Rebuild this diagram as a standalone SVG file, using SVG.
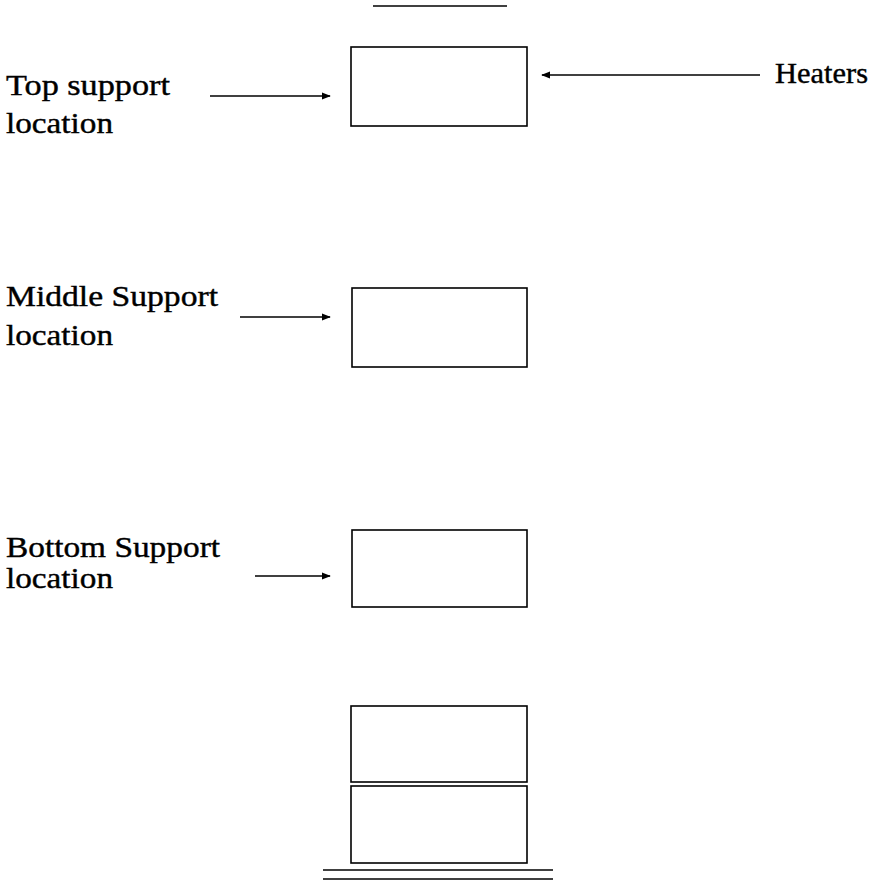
<svg xmlns="http://www.w3.org/2000/svg" width="870" height="880" viewBox="0 0 870 880">
<defs>
<marker id="ah" viewBox="0 0 10 10" refX="9" refY="5" markerWidth="9" markerHeight="9" markerUnits="userSpaceOnUse" orient="auto"><path d="M0,1 L10,5 L0,9 z" fill="#000"/></marker>
</defs>
<style>
.box{fill:#fff;stroke:#000;stroke-width:1.6}
.ln{stroke:#000;stroke-width:1.4;fill:none}
.t{font-family:"Liberation Serif",serif;font-size:29px;fill:#000;stroke:#000;stroke-width:0.4}
</style>
<rect width="870" height="880" fill="#fff"/>
<g id="top-line"><line class="ln" x1="373" y1="6" x2="507" y2="6"/></g>
<g id="top-box"><rect class="box" x="351" y="47" width="176" height="79"/></g>
<g id="middle-box"><rect class="box" x="352" y="288" width="175" height="79"/></g>
<g id="bottom-box"><rect class="box" x="352" y="530" width="175" height="77"/></g>
<g id="stack-upper"><rect class="box" x="351" y="706" width="176" height="76"/></g>
<g id="stack-lower"><rect class="box" x="351" y="786" width="176" height="77"/></g>
<g id="base-lines"><line class="ln" x1="323" y1="870" x2="553" y2="870"/><line class="ln" x1="323" y1="879" x2="553" y2="879"/></g>
<g id="label-top"><text class="t" x="6" y="95" textLength="164" lengthAdjust="spacingAndGlyphs">Top support</text><text class="t" x="6" y="133" textLength="107" lengthAdjust="spacingAndGlyphs">location</text></g>
<g id="label-middle"><text class="t" x="6" y="306" textLength="212" lengthAdjust="spacingAndGlyphs">Middle Support</text><text class="t" x="6" y="345" textLength="107" lengthAdjust="spacingAndGlyphs">location</text></g>
<g id="label-bottom"><text class="t" x="6" y="557" textLength="214" lengthAdjust="spacingAndGlyphs">Bottom Support</text><text class="t" x="6" y="588" textLength="107" lengthAdjust="spacingAndGlyphs">location</text></g>
<g id="label-heaters"><text class="t" x="775" y="83" textLength="93" lengthAdjust="spacingAndGlyphs">Heaters</text></g>
<g id="connectors">
<line class="ln" x1="210" y1="96" x2="330" y2="96" marker-end="url(#ah)"/>
<line class="ln" x1="760" y1="75" x2="542" y2="75" marker-end="url(#ah)"/>
<line class="ln" x1="240" y1="317" x2="330" y2="317" marker-end="url(#ah)"/>
<line class="ln" x1="255" y1="576" x2="330" y2="576" marker-end="url(#ah)"/>
</g>
</svg>
